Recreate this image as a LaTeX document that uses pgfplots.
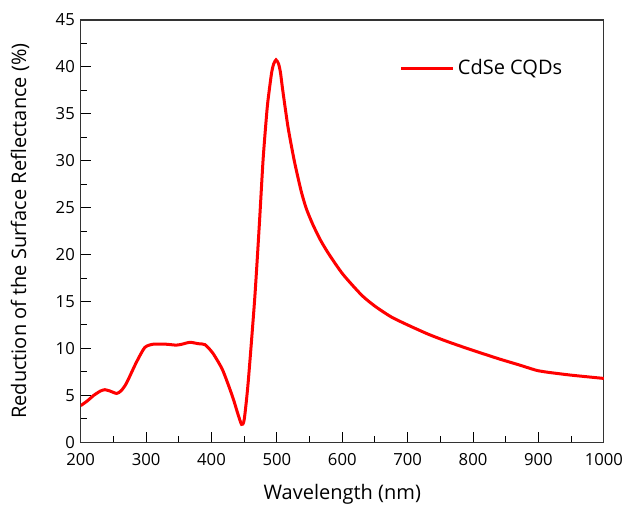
\documentclass[border=0pt]{standalone}
\usepackage{fontspec}
\setmainfont{Open Sans}
\usepackage{pgfplots}
\pgfplotsset{compat=1.18}
\begin{document}
\begin{tikzpicture}
\begin{axis}[
  scale only axis,
  width=313.7pt, height=253.2pt,
  xmin=200, xmax=1000, ymin=0, ymax=45,
  xtick={200,300,...,1000}, ytick={0,5,...,45},
  minor x tick num=1, minor y tick num=1,
  xtick pos=left, ytick pos=left,
  tick align=inside,
  major tick length=6pt, minor tick length=3.5pt,
  every tick/.style={black, line width=0.6pt},
  axis line style={line width=0.8pt, black!80},
  /pgf/number format/assume math mode=true,
  /pgf/number format/1000 sep={},
  tick label style={font=\fontsize{10}{12}\selectfont},
  xticklabel style={yshift=-3pt},
  label style={font=\fontsize{12}{14}\selectfont},
  xlabel={Wavelength (nm)},
  ylabel={Reduction of the Surface Reflectance (\%)},
  xlabel style={at={(axis description cs:0.5,-0.123)}, anchor=center},
  ylabel style={at={(axis description cs:-0.116,0.5)}, anchor=center},
  legend style={draw=none, fill=none, at={(axis description cs:0.6,0.886)}, anchor=west, font=\fontsize{12}{14}\selectfont},
  legend image code/.code={\draw[#1] (0pt,0pt) -- (31pt,0pt);},
]
\addplot[red, line width=1.8pt, smooth, tension=0.4] coordinates {
(200,3.9) (210,4.4) (220,5.0) (230,5.45) (237,5.6) (245,5.45) (255,5.2) (262,5.5)
(270,6.3) (285,8.5) (298,10.1) (311,10.45) (330,10.45) (346,10.35) (355,10.45)
(367,10.65) (380,10.5) (390,10.4) (402,9.5) (417,7.7) (432,4.9) (440,3.1)
(446,1.9) (450,2.4) (456,6.3) (466,15.2) (473,23.0) (479,30.2) (485,35.5)
(488.5,37.6) (492,39.4) (495,40.3) (498.7,40.75) (502.5,40.35) (505.5,39.4)
(508.8,37.6) (517,33.6) (526.6,30.0) (537,26.8) (545,24.9) (555,23.2)
(567,21.5) (580,20.0) (601,17.9) (630,15.65) (651,14.45) (675,13.35)
(700,12.5) (732,11.5) (760,10.75) (793,9.95) (839,8.9) (870,8.25) (895,7.7)
(903,7.58) (915,7.45) (950,7.15) (1000,6.8)
};
\addlegendentry{CdSe CQDs}
\end{axis}
\pgfresetboundingbox
\path ([xshift=-48.4pt,yshift=-39pt]current axis.south west) rectangle ([xshift=11.5pt,yshift=12pt]current axis.north east);
\end{tikzpicture}
\end{document}
